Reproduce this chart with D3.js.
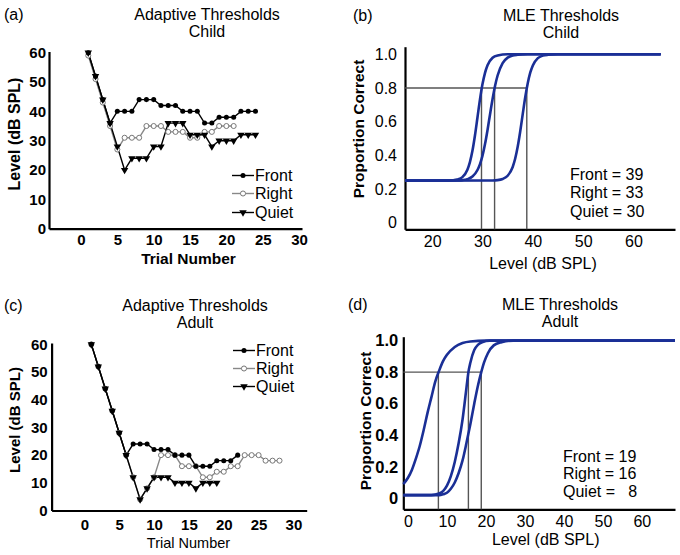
<!DOCTYPE html>
<html>
<head>
<meta charset="UTF-8">
<title>Adaptive and MLE thresholds</title>
<script src="https://d3js.org/d3.v7.min.js"></script>
<style>
  body { margin: 0; background: #fff; }
  svg { font-family: "Liberation Sans", Arial, sans-serif; }
  .psy { fill: none; stroke: #1a2f96; stroke-width: 2.6px; }
  .thr { stroke: #555; stroke-width: 1.4px; fill: none; }
</style>
</head>
<body>
<svg id="chart" width="680" height="555"></svg>
<script>
// ---- data ----
var trialTicks = [0, 5, 10, 15, 20, 25, 30];
var levelTicks = [0, 10, 20, 30, 40, 50, 60];
var propTicks = [0, 0.2, 0.4, 0.6, 0.8, 1.0];
var childLevelTicks = [20, 30, 40, 50, 60];
var adultLevelTicks = [0, 10, 20, 30, 40, 50, 60];
var conditions = ["Front", "Right", "Quiet"];

// adaptive tracks, level (dB SPL) for trial 1..n
var childFront = [60,52,44,36,40,40,40,44,44,44,42,42,42,40,40,40,36,36,38,38,38,40,40,40];
var childRight = [59,51,43,35,27,31,31,31,35,35,35,33,33,33,31,31,33,33,35,35,35];
var childQuiet = [60,52,44,36,28,20,24,24,24,28,28,36,36,36,32,32,32,28,30,30,30,32,32,32];
var adultFront = [60,52,44,36,28,20,24,24,24,22,22,22,20,20,20,16,16,16,18,18,18,20];
var adultRight = [60,52,44,36,28,20,12,4,8,12,20,20,20,16,16,16,12,12,14,14,16,16,20,20,20,18,18,18];
var adultQuiet = [60,52,44,36,28,20,12,4,8,12,12,12,10,10,10,8,10,10,10];

// MLE psychometric functions, [level, proportion correct]
var childFrontFn = [[14.6,0.25],[32,0.251],[33,0.253],[34,0.26],[35,0.279],[36,0.331],[36.5,0.381],[37,0.452],[37.5,0.543],[38,0.646],[38.5,0.746],[39,0.829],[39.5,0.892],[40,0.934],[41,0.977],[42,0.992],[43,0.997],[45,1],[65.4,1]];
var childRightFn = [[14.6,0.25],[25,0.251],[26,0.253],[27,0.259],[28,0.274],[29,0.313],[29.5,0.348],[30,0.398],[30.5,0.467],[31,0.551],[31.5,0.644],[32,0.734],[32.5,0.813],[33,0.874],[34,0.948],[35,0.98],[36,0.993],[37,0.997],[39,1],[65.4,1]];
var childQuietFn = [[14.6,0.25],[23,0.25],[24,0.252],[25,0.257],[26,0.271],[27,0.315],[27.5,0.36],[28,0.427],[28.5,0.518],[29,0.625],[29.5,0.732],[30,0.823],[30.5,0.89],[31,0.935],[32,0.979],[33,0.993],[35,1],[65.4,1]];
var adultFrontFn = [[-1.2,0.02],[8,0.02],[9,0.025],[10,0.035],[11,0.06],[12,0.1],[13,0.16],[14,0.24],[15,0.35],[16,0.47],[17,0.6],[18,0.72],[18.8,0.8],[19.5,0.86],[20.5,0.92],[22,0.97],[24,0.99],[27,1],[68.5,1]];
var adultRightFn = [[-1.2,0.02],[6,0.02],[8,0.03],[9,0.045],[10,0.08],[11,0.14],[12,0.23],[13,0.35],[14,0.5],[15,0.7],[15.5,0.8],[16,0.86],[17,0.94],[18,0.975],[19,0.99],[21,1],[68.5,1]];
var adultQuietFn = [[-1.2,0.09],[0,0.13],[1,0.18],[2,0.25],[3,0.33],[4,0.43],[5,0.54],[6,0.64],[7,0.74],[8,0.81],[9,0.87],[10,0.91],[12,0.96],[14,0.985],[16,0.995],[20,1],[68.5,1]];

var childThresholds = [38.8, 32.4, 29.8];
var childLabels = ["39", "33", "30"];
var adultThresholds = [18.8, 15.5, 7.8];
var adultLabels = ["19", "16", "  8"];

var svg = d3.select("#chart");

function styleAxis(ax, size, weight) {
  ax.attr("font-family", null).attr("font-size", size);
  ax.select(".domain").attr("stroke", "#000").attr("stroke-width", 2.2);
  ax.selectAll("text").attr("fill", "#000").attr("font-weight", weight);
}

function label(x, y, txt, size, weight, anchor, rot) {
  var t = svg.append("text")
    .attr("font-size", size)
    .attr("font-weight", weight || "normal")
    .attr("text-anchor", anchor || "start")
    .style("white-space", "pre")
    .text(txt);
  if (rot) t.attr("transform", "translate(" + x + "," + y + ") rotate(-90)");
  else t.attr("x", x).attr("y", y);
  return t;
}

var circle = d3.symbol().type(d3.symbolCircle).size(20);
var tri = d3.symbol().type(d3.symbolTriangle).size(24);

function marker(g, cx, cy, kind) {
  if (kind == "Right") {
    g.append("path").attr("d", circle()).attr("transform", "translate(" + cx + "," + cy + ")")
      .attr("fill", "#fff").attr("stroke", "#777").attr("stroke-width", 1);
  } else if (kind == "Front") {
    g.append("path").attr("d", circle()).attr("transform", "translate(" + cx + "," + cy + ")")
      .attr("fill", "#000");
  } else {
    g.append("path").attr("d", tri()).attr("transform", "translate(" + cx + "," + cy + ") rotate(180)")
      .attr("fill", "#000");
  }
}

function drawAdaptive(p) {
  var x = d3.scaleLinear().domain(p.xDom).range(p.xRange);
  var y = d3.scaleLinear().domain(p.yDom).range(p.yRange);

  var xa = svg.append("g").attr("transform", "translate(0," + p.yRange[0] + ")")
    .call(d3.axisBottom(x).tickValues(trialTicks).tickSize(0).tickPadding(p.xPad));
  styleAxis(xa, p.tickSize, p.tickWeight);
  var ya = svg.append("g").attr("transform", "translate(" + p.xRange[0] + ",0)")
    .call(d3.axisLeft(y).tickValues(levelTicks).tickSize(0).tickPadding(p.yPad));
  styleAxis(ya, p.tickSize, p.tickWeight);

  var line = d3.line().x(function(d, i) { return x(i + 1); }).y(function(d) { return y(d); });
  var g = svg.append("g");
  var order = [["Right", p.right], ["Quiet", p.quiet], ["Front", p.front]];
  order.forEach(function(s) {
    g.append("path").datum(s[1]).attr("d", line).attr("fill", "none")
      .attr("stroke", s[0] == "Right" ? "#888" : "#000").attr("stroke-width", 1.4);
  });
  order.forEach(function(s) {
    s[1].forEach(function(v, i) { marker(g, x(i + 1), y(v), s[0]); });
  });

  // legend
  conditions.forEach(function(c, i) {
    var ly = p.legY[i];
    g.append("line").attr("x1", p.legX).attr("x2", p.legX + 22).attr("y1", ly - 5.5).attr("y2", ly - 5.5)
      .attr("stroke", c == "Right" ? "#888" : "#000").attr("stroke-width", 1.4);
    marker(g, p.legX + 11, ly - 5.5, c);
    label(p.legX + 23, ly, c, 16);
  });

  label(4, p.titleY[0], p.tag, 16);
  label(p.titleX, p.titleY[0], "Adaptive Thresholds", 16, "normal", "middle");
  label(p.titleX, p.titleY[1], p.group, 16, "normal", "middle");
  label(p.yLabX, p.yLabY, "Level (dB SPL)", p.yLabSize, "bold", "middle", true);
  label(p.xLabX, p.xLabY, "Trial Number", p.xLabSize, p.xLabWeight, "middle");
}

function drawMLE(p) {
  var x = d3.scaleLinear().domain(p.xDom).range(p.xRange);
  var y = d3.scaleLinear().domain(p.yDom).range(p.yRange);

  var xa = svg.append("g").attr("transform", "translate(0," + p.yRange[0] + ")")
    .call(d3.axisBottom(x).tickValues(p.xTicks).tickSize(0).tickPadding(p.xPad));
  styleAxis(xa, 16, "normal");
  var ya = svg.append("g").attr("transform", "translate(" + p.xRange[0] + ",0)")
    .call(d3.axisLeft(y).tickValues(propTicks).tickSize(0).tickPadding(p.yPad)
      .tickFormat(function(d) { return d == 0 ? "0" : d3.format(".1f")(d); }));
  styleAxis(ya, p.yTickSize, p.yTickWeight);

  var g = svg.append("g");
  // threshold guide lines at 0.8
  g.append("line").attr("class", "thr")
    .attr("x1", p.xRange[0]).attr("x2", x(d3.max(p.thr)))
    .attr("y1", y(0.8)).attr("y2", y(0.8));
  p.thr.forEach(function(t) {
    g.append("line").attr("class", "thr")
      .attr("x1", x(t)).attr("x2", x(t)).attr("y1", y(0.8)).attr("y2", p.yRange[0]);
  });

  var line = d3.line().curve(d3.curveMonotoneX)
    .x(function(d) { return x(d[0]); }).y(function(d) { return y(d[1]); });
  p.fns.forEach(function(f) {
    g.append("path").datum(f).attr("class", "psy").attr("d", line);
  });

  conditions.forEach(function(c, i) {
    label(p.annX, p.annY[i], c + " = " + p.labels[i], 16);
  });

  label(p.tagX, p.titleY[0], p.tag, 16);
  label(p.titleX, p.titleY[0], "MLE Thresholds", 16, "normal", "middle");
  label(p.titleX, p.titleY[1], p.group, 16, "normal", "middle");
  label(p.yLabX, p.yLabY, "Proportion Correct", 15.5, "bold", "middle", true);
  label(p.xLabX, p.xLabY, "Level (dB SPL)", 16, "normal", "middle");
}

drawAdaptive({
  tag: "(a)", group: "Child",
  front: childFront, right: childRight, quiet: childQuiet,
  xDom: [-4.4, 30.4], xRange: [49, 302],
  yDom: [0, 60.4], yRange: [228.7, 51.5],
  xPad: 6, yPad: 3, tickSize: 15, tickWeight: "bold",
  legX: 232, legY: [181, 199, 218],
  titleX: 207, titleY: [20, 37],
  yLabX: 20, yLabY: 134, yLabSize: 16,
  xLabX: 188.5, xLabY: 264, xLabSize: 15.5, xLabWeight: "bold"
});

drawAdaptive({
  tag: "(c)", group: "Adult",
  front: adultFront, right: adultRight, quiet: adultQuiet,
  xDom: [-4.7, 31.9], xRange: [51.6, 306.7],
  yDom: [0, 60.5], yRange: [510.5, 343],
  xPad: 9, yPad: 4, tickSize: 15, tickWeight: "bold",
  legX: 233, legY: [356, 374, 392],
  titleX: 195, titleY: [310.5, 328],
  yLabX: 20, yLabY: 420, yLabSize: 15,
  xLabX: 188.5, xLabY: 548, xLabSize: 14.5, xLabWeight: "normal"
});

drawMLE({
  tag: "(b)", tagX: 353, group: "Child",
  fns: [childFrontFn, childRightFn, childQuietFn],
  thr: childThresholds, labels: childLabels,
  xTicks: childLevelTicks,
  xDom: [14.6, 68.25], xRange: [405, 675],
  yDom: [-0.039, 1.045], yRange: [229.3, 46.7],
  xPad: 6, yPad: 8, yTickSize: 16, yTickWeight: "normal",
  annX: 570, annY: [180, 198, 216.7],
  titleX: 561, titleY: [20.5, 38],
  yLabX: 364, yLabY: 129,
  xLabX: 543, xLabY: 269
});

drawMLE({
  tag: "(d)", tagX: 348, group: "Adult",
  fns: [adultFrontFn, adultRightFn, adultQuietFn],
  thr: adultThresholds, labels: adultLabels,
  xTicks: adultLevelTicks,
  xDom: [-1.2, 68.5], xRange: [403.3, 675],
  yDom: [-0.07, 1.025], yRange: [509.3, 336.7],
  xPad: 6.5, yPad: 5, yTickSize: 16.5, yTickWeight: "bold",
  annX: 563, annY: [461.7, 478.5, 496.5],
  titleX: 560, titleY: [309.5, 327],
  yLabX: 371, yLabY: 421,
  xLabX: 545.7, xLabY: 545
});
</script>
</body>
</html>
